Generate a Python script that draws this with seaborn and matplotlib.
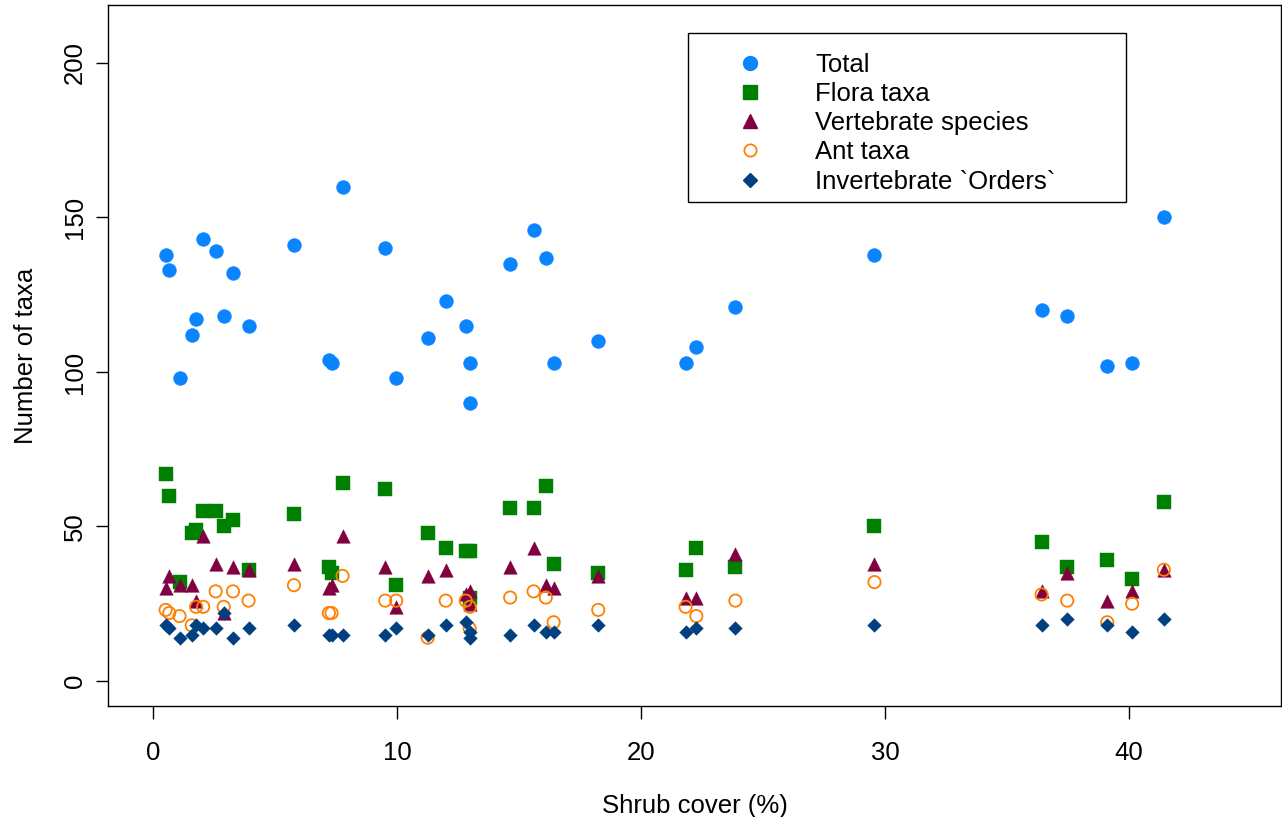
import matplotlib
matplotlib.use("Agg")
import matplotlib.pyplot as plt
import seaborn as sns
import pandas as pd
from matplotlib.lines import Line2D
from matplotlib.patches import Rectangle

shrub_cover = [0.52, 0.67, 1.09, 1.59, 1.77, 2.06, 2.57, 2.90, 3.28, 3.92,
               5.78, 7.21, 7.32, 7.77, 9.52, 9.97, 11.26, 12.0, 12.82, 12.99,
               12.98, 14.64, 15.6, 16.1, 16.42, 18.25, 21.83, 22.27, 23.87, 29.57,
               36.42, 37.47, 39.11, 40.13, 41.43]
total = [138, 133, 98, 112, 117, 143, 139, 118, 132, 115,
         141, 104, 103, 160, 140, 98, 111, 123, 115, 103,
         90, 135, 146, 137, 103, 110, 103, 108, 121, 138,
         120, 118, 102, 103, 150]
flora = [67, 60, 32, 48, 49, 55, 55, 50, 52, 36,
         54, 37, 35, 64, 62, 31, 48, 43, 42, 42,
         27, 56, 56, 63, 38, 35, 36, 43, 37, 50,
         45, 37, 39, 33, 58]
vertebrates = [30, 34, 31, 31, 26, 47, 38, 22, 37, 36,
               38, 30, 31, 47, 37, 24, 34, 36, 28, 29,
               25, 37, 43, 31, 30, 34, 27, 27, 41, 38,
               29, 35, 26, 29, 36]
ants = [23, 22, 21, 18, 24, 24, 29, 24, 29, 26,
        31, 22, 22, 34, 26, 26, 14, 26, 26, 24,
        17, 27, 29, 27, 19, 23, 24, 21, 26, 32,
        28, 26, 19, 25, 36]
invertebrates = [18, 17, 14, 15, 18, 17, 17, 22, 14, 17,
                 18, 15, 15, 15, 15, 17, 15, 18, 19, 16,
                 14, 15, 18, 16, 16, 18, 16, 17, 17, 18,
                 18, 20, 18, 16, 20]

series_labels = ["Total", "Flora taxa", "Vertebrate species", "Ant taxa",
                 "Invertebrate `Orders`"]
series_colors = ["#0A84FF", "#008000", "#800040", "#FF8000", "#004080"]
series_markers = ["o", "s", "^", "o", "D"]
x_ticks = [0, 10, 20, 30, 40]
y_ticks = [0, 50, 100, 150, 200]

sns.set_theme(style="white")
plt.rcParams["font.family"] = ["Liberation Sans", "DejaVu Sans"]
for key in ["text.color", "axes.labelcolor", "xtick.color", "ytick.color"]:
    plt.rcParams[key] = "black"

FS = 18.5

df = pd.DataFrame({"shrub": shrub_cover, "Total": total, "Flora taxa": flora,
                   "Vertebrate species": vertebrates, "Ant taxa": ants,
                   "Invertebrate `Orders`": invertebrates})

fig = plt.figure(figsize=(12.82, 8.17), dpi=100)
ax = fig.add_axes([0.0842, 0.1359, 0.9150, 0.8580])

sizes = [100, 90, 95, 78, 48]
legend_ms = [10, 9.5, 9.5, 8.8, 7]
handles = []
for lab, col, mk, sz, lms in zip(series_labels, series_colors, series_markers,
                                 sizes, legend_ms):
    if lab == "Ant taxa":
        sns.scatterplot(data=df, x="shrub", y=lab, ax=ax, marker=mk, s=sz,
                        color=col, facecolor="none", edgecolor=col, linewidth=1.3,
                        zorder=3)
        handles.append(Line2D([], [], linestyle="none", marker=mk, markersize=lms,
                              markerfacecolor="none", markeredgecolor=col,
                              markeredgewidth=1.3))
    else:
        sns.scatterplot(data=df, x="shrub", y=lab, ax=ax, marker=mk, s=sz,
                        color=col, edgecolor=col, linewidth=0.3, zorder=3)
        handles.append(Line2D([], [], linestyle="none", marker=mk, markersize=lms,
                              markerfacecolor=col, markeredgecolor=col))

ax.set_xlim(-1.844, 46.23)
ax.set_ylim(-8.09, 218.77)
ax.set_xticks(x_ticks)
ax.set_yticks(y_ticks)
ax.set_xticklabels([str(t) for t in x_ticks], fontsize=FS)
ax.set_yticklabels([str(t) for t in y_ticks], fontsize=FS, rotation=90, va="center")
ax.tick_params(axis="both", which="major", direction="out", length=9, width=1,
               color="black", bottom=True, left=True)
ax.tick_params(axis="x", pad=16)
ax.tick_params(axis="y", pad=6)
ax.set_xlabel("Shrub cover (%)", fontsize=FS, labelpad=21)
ax.set_ylabel("Number of taxa", fontsize=FS, labelpad=18)
for sp in ax.spines.values():
    sp.set_color("black")
    sp.set_linewidth(1.0)
ax.grid(False)

# legend box (frame drawn as rectangle in axes coordinates)
ax.add_patch(Rectangle((0.4945, 0.719), 0.3734, 0.2411, transform=ax.transAxes,
                       fill=True, facecolor="white", edgecolor="black",
                       linewidth=1.0, zorder=4))
leg = ax.legend(handles, series_labels, loc="upper left",
                bbox_to_anchor=(0.5345, 0.9315), fontsize=FS, frameon=False,
                borderpad=0, labelspacing=0.2, handletextpad=1.95,
                handlelength=1.17, borderaxespad=0)
leg.set_zorder(5)

fig.savefig("out.png", dpi=100)
